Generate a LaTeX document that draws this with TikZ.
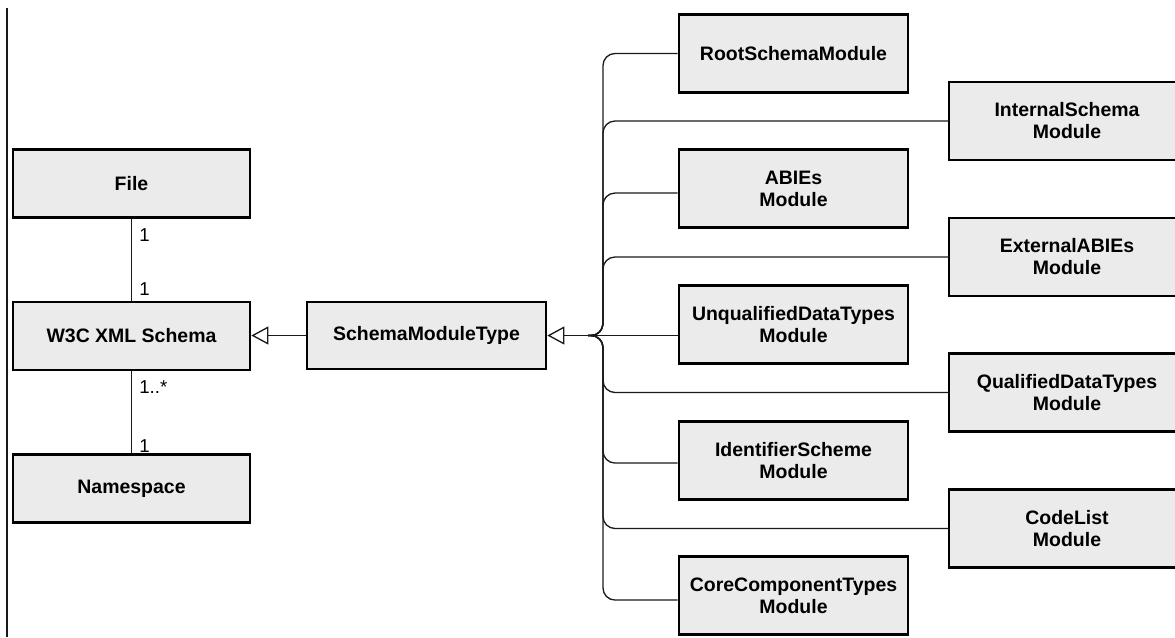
\documentclass[tikz,border=0pt]{standalone}
\usepackage{fontspec}
\setmainfont{Liberation Sans}
\usetikzlibrary{arrows.meta,calc}
\definecolor{boxfill}{HTML}{EBEBEB}
\definecolor{linecol}{HTML}{1A1A1A}
\pgfdeclarelayer{background}
\pgfsetlayers{background,main}
\begin{document}
\begin{tikzpicture}[x=0.75pt,y=-0.75pt,
  conn/.style={draw=linecol, line width=1pt},
  bus/.style={conn, rounded corners=9pt},
  gen/.style={conn, -{Triangle[open, length=17*0.75pt, width=18*0.75pt, line width=1pt, fill=white]}},
  boxframe/.style={draw=black, line width=2pt, fill=boxfill},
  boxtext/.style={inner sep=0pt, align=center, font=\bfseries\fontsize{14.6}{16.5}\selectfont},
  classbox/.style={boxframe, boxtext},
  leftbox/.style={classbox, minimum width=237*0.75pt, minimum height=68*0.75pt},
  modbox/.style={classbox, minimum width=229*0.75pt, minimum height=78*0.75pt},
  % outer column: text area only, its frame runs past the right edge
  extbox/.style={boxtext, outer sep=0pt, minimum width=236*0.75pt, minimum height=78*0.75pt},
  mult/.style={font=\fontsize{14}{16}\selectfont, anchor=west, inner sep=0pt}]
\useasboundingbox (0,0) rectangle (1175,637);

% margin rule on the left
\coordinate (ruleTop) at (7,8);
\coordinate (ruleBot) at (7,637);
\draw[conn] (ruleTop) -- (ruleBot);

% left-hand classes
\node[leftbox] (file) at (131.5,183.5) {File};
\node[leftbox] (w3c)  at (131.5,336)   {W3C XML Schema};
\node[leftbox] (ns)   at (131.5,488.5) {Namespace};
\node[classbox, minimum width=239*0.75pt, minimum height=67*0.75pt] (smt) at (426.5,335.5) {SchemaModuleType};

% module classes, inner column
\node[modbox] (root)  at (793.5,53.5)  {RootSchemaModule};
\node[modbox] (abies) at (793.5,188.5) {ABIEs\\Module};
\node[modbox] (unq)   at (793.5,324.5) {UnqualifiedDataTypes\\Module};
\node[modbox] (ident) at (793.5,460.5) {IdentifierScheme\\Module};
\node[modbox] (core)  at (793.5,595.5) {CoreComponentTypes\\Module};

% module classes, outer column
\node[extbox] (internal) at (1067,121)   {InternalSchema\\Module};
\node[extbox] (external) at (1067,257)   {ExternalABIEs\\Module};
\node[extbox] (qual)     at (1067,392.5) {QualifiedDataTypes\\Module};
\node[extbox] (codelist) at (1067,528.5) {CodeList\\Module};
\begin{pgfonlayer}{background}
  \foreach \b in {internal,external,qual,codelist}
    \draw[boxframe] (\b.north west) rectangle ([xshift=40pt]\b.south east);
\end{pgfonlayer}

% associations with multiplicities
\draw[conn] (file) -- (w3c);
\draw[conn] (w3c) -- (ns);
\node[mult] (mFile)  at (139,235)   {1};
\node[mult] (mW3Ca)  at (139,289)   {1};
\node[mult] (mW3Cb)  at (139,387)   {1..*};
\node[mult] (mNs)    at (139,446.5) {1};

% generalisation to the W3C schema
\draw[gen] (smt.west) -- (smt.west -| w3c.east);

% generalisation tree of the modules
\coordinate (jn)   at (588,335.5);
\coordinate (bend) at (603,335.5);
\draw[gen] (jn) -- (smt.east);
\draw[conn] (jn) -- (jn -| unq.west);

\coordinate (rootIn)  at (root.west);
\coordinate (abiesIn) at ([yshift=-3.4pt]abies.west);
\coordinate (identIn) at ([yshift=-1.9pt]ident.west);
\coordinate (coreIn)  at ([yshift=-3.4pt]core.west);
\coordinate (intIn)   at (internal.west);
\coordinate (extIn)   at (external.west);
\coordinate (qualIn)  at (qual.west);
\coordinate (codeIn)  at (codelist.west);

\foreach \t in {rootIn,abiesIn,identIn,coreIn,intIn,extIn,qualIn,codeIn}
  \draw[bus] (jn) -- (bend) -- (bend |- \t) -- (\t);
\end{tikzpicture}
\end{document}
